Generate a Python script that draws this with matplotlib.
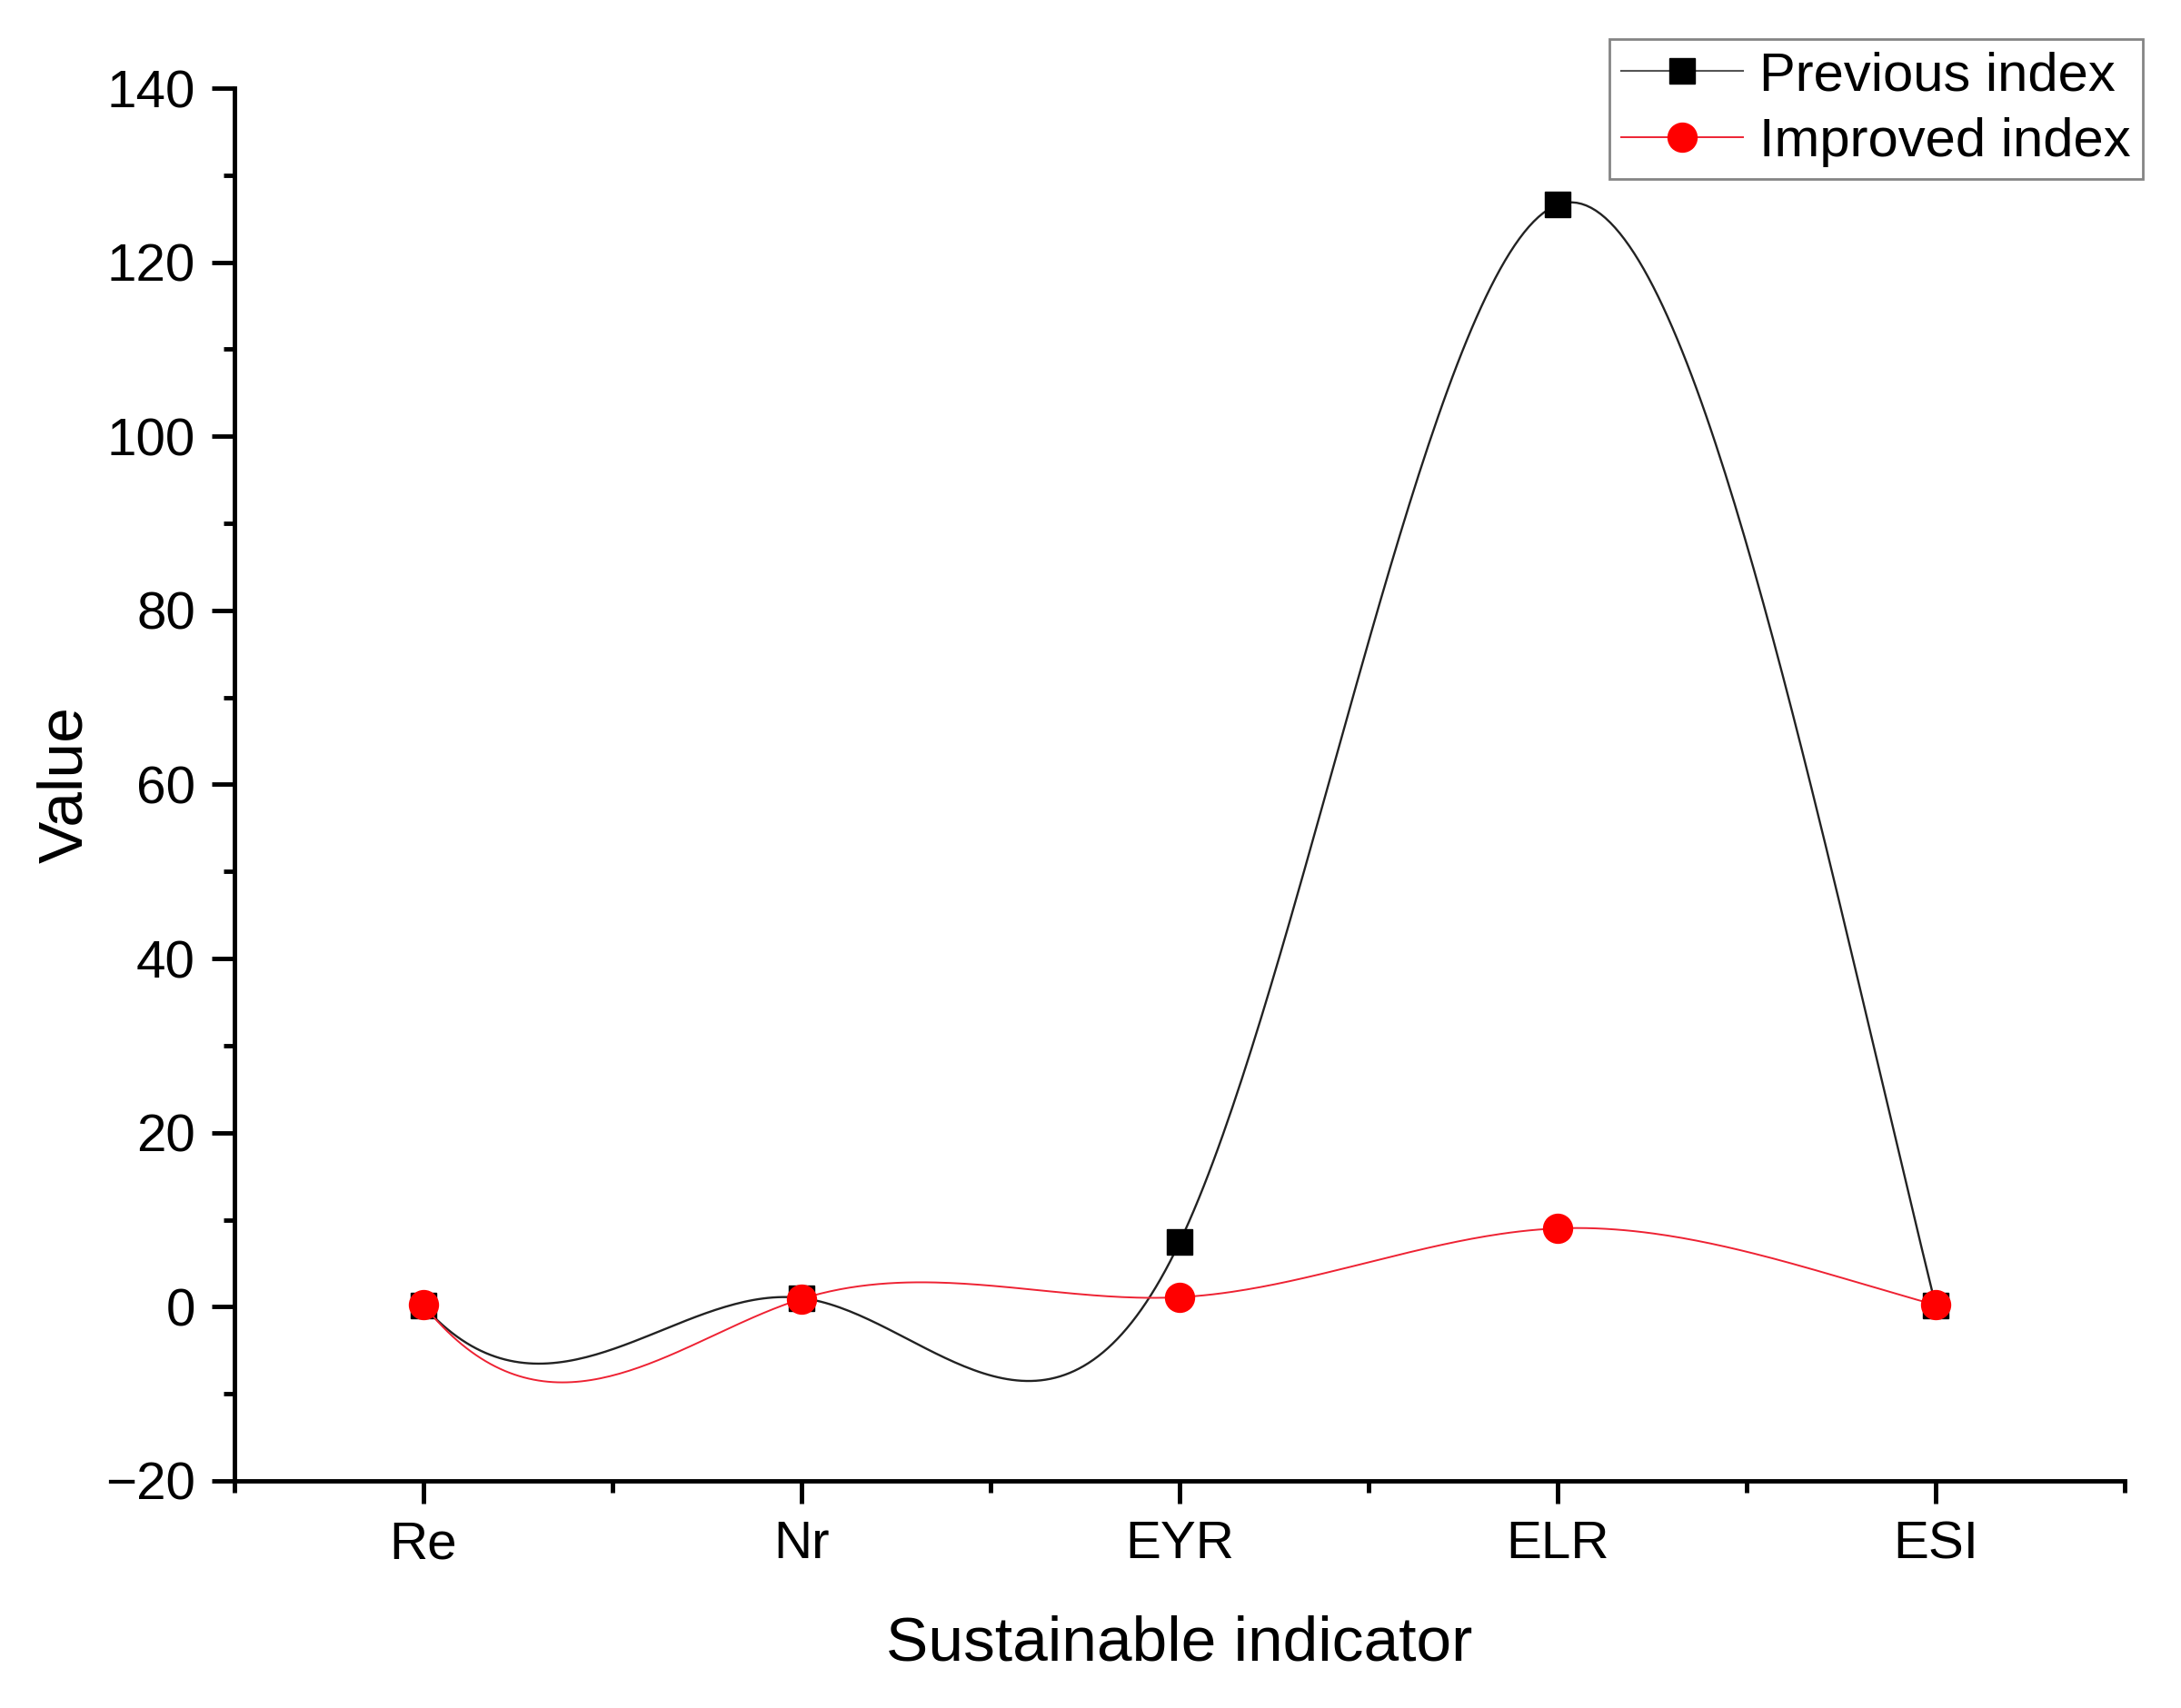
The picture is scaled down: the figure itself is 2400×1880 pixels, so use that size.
import numpy as np
import matplotlib
matplotlib.use('Agg')
import matplotlib.pyplot as plt
from matplotlib.lines import Line2D
from matplotlib.ticker import MultipleLocator, FixedLocator

plt.rcParams['font.family'] = ['Liberation Sans', 'DejaVu Sans']

# data
indicators = ['Re', 'Nr', 'EYR', 'ELR', 'ESI']
previous_index = [0.1, 1.0, 7.4, 126.6, 0.1]
improved_index = [0.2, 0.9, 1.1, 9.0, 0.2]

# end slopes used for the smooth connecting curves (Origin "spline" look)
prev_end_slopes = (-48.7, -177.7)
impr_end_slopes = (-54.0, -12.0)


def spline_curve(x, y, ends, n=80):
    # clamped cubic spline through the points, evaluated for drawing the line
    x = np.asarray(x, float)
    y = np.asarray(y, float)
    k = len(x)
    h = np.diff(x)
    A = np.zeros((k, k))
    b = np.zeros(k)
    A[0, 0] = 1
    b[0] = ends[0]
    A[-1, -1] = 1
    b[-1] = ends[1]
    for i in range(1, k - 1):
        A[i, i - 1] = 1 / h[i - 1]
        A[i, i] = 2 * (1 / h[i - 1] + 1 / h[i])
        A[i, i + 1] = 1 / h[i]
        b[i] = 3 * ((y[i] - y[i - 1]) / h[i - 1] ** 2 + (y[i + 1] - y[i]) / h[i] ** 2)
    m = np.linalg.solve(A, b)
    xs, ys = [], []
    for i in range(k - 1):
        t = np.linspace(0, 1, n)
        h00 = 2 * t**3 - 3 * t**2 + 1
        h10 = t**3 - 2 * t**2 + t
        h01 = -2 * t**3 + 3 * t**2
        h11 = t**3 - t**2
        xs.append(x[i] + t * h[i])
        ys.append(h00 * y[i] + h10 * h[i] * m[i] + h01 * y[i + 1] + h11 * h[i] * m[i + 1])
    return np.concatenate(xs), np.concatenate(ys)


pos = np.arange(1, len(indicators) + 1)

fig = plt.figure(figsize=(24, 18.8), dpi=100)
ax = fig.add_axes([0.1075, 0.133, 0.8667, 0.8154])

px, py = spline_curve(pos, previous_index, prev_end_slopes)
ix, iy = spline_curve(pos, improved_index, impr_end_slopes)

ax.plot(px, py, color='#222222', lw=1.7, zorder=2)
ax.plot(pos, previous_index, ls='none', marker='s', ms=20, color='black', zorder=3)
ax.plot(ix, iy, color='#ee2233', lw=1.4, zorder=4)
ax.plot(pos, improved_index, ls='none', marker='o', ms=23, color='#ff0000', zorder=5)

ax.set_xlim(0.5, 5.5)
ax.set_ylim(-20, 140)
ax.set_xticks(pos)
ax.set_xticklabels(indicators)
ax.xaxis.set_minor_locator(FixedLocator(np.arange(0.5, 6.0, 1.0)))
ax.yaxis.set_major_locator(MultipleLocator(20))
ax.yaxis.set_minor_locator(MultipleLocator(10))

for s in ['top', 'right']:
    ax.spines[s].set_visible(False)
for s in ['left', 'bottom']:
    ax.spines[s].set_linewidth(3.5)

ax.tick_params(which='major', direction='out', length=18, width=3.5, labelsize=42, pad=13)
ax.tick_params(which='minor', direction='out', length=9, width=3.5)

ax.set_xlabel('Sustainable indicator', fontsize=50)
ax.set_ylabel('Value', fontsize=50)
ax.xaxis.set_label_coords(0.5, -0.096)
ax.yaxis.set_label_coords(-0.074, 0.5)

handles = [
    Line2D([], [], color='#555555', lw=1.5, marker='s', ms=20, mfc='black', mec='black'),
    Line2D([], [], color='#ee2233', lw=1.4, marker='o', ms=23, mfc='#ff0000', mec='#ff0000'),
]
leg = fig.legend(handles, ['Previous index', 'Improved index'], loc='upper right',
                 bbox_to_anchor=(0.9825, 0.9771), fontsize=43, frameon=True,
                 fancybox=False, borderpad=0.22, labelspacing=0.3, handlelength=2.25,
                 handletextpad=0.3, borderaxespad=0)
leg.get_frame().set_edgecolor('#666666')
leg.get_frame().set_linewidth(2)

fig.savefig('out.png', dpi=100)
